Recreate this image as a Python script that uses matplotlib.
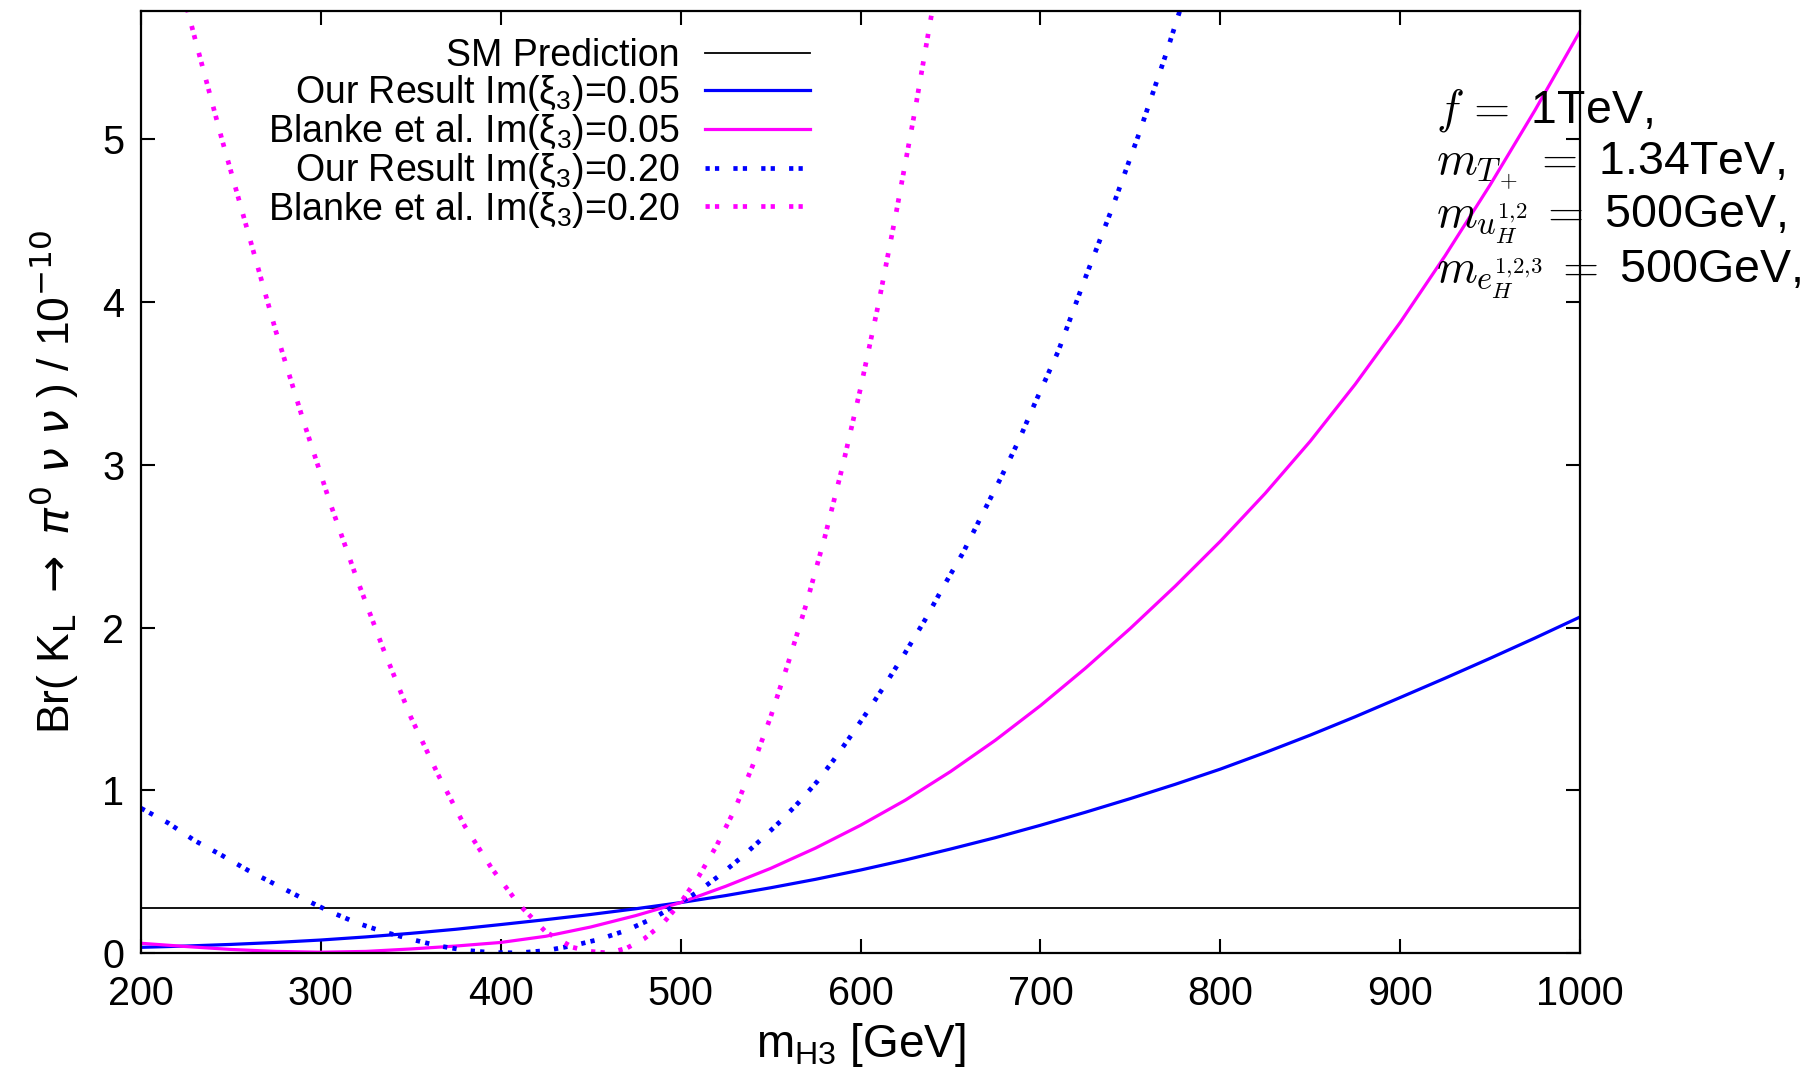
import numpy as np
import matplotlib
matplotlib.use("Agg")
from matplotlib import pyplot as plt

plt.rcParams['font.family'] = ['Liberation Sans', 'DejaVu Sans']
plt.rcParams['mathtext.fontset'] = 'custom'
plt.rcParams['mathtext.rm'] = 'Liberation Sans'
plt.rcParams['mathtext.it'] = 'Liberation Sans:italic'
plt.rcParams['mathtext.bf'] = 'Liberation Sans:bold'

# Br(K_L -> pi0 nu nu) in units of 1e-10 versus m_H3 [GeV]
sm_value = 0.275

ours_005_m = [200, 225, 250, 275, 300, 325, 350, 375, 400, 425, 450, 475, 500, 525, 550, 575,
              600, 625, 650, 675, 700, 725, 750, 775, 800, 825, 850, 875, 900, 925, 950, 975, 1000]
ours_005_br = [0.035, 0.043, 0.053, 0.065, 0.08, 0.099, 0.121, 0.146, 0.175, 0.205, 0.237, 0.272,
               0.31, 0.353, 0.401, 0.453, 0.51, 0.572, 0.639, 0.709, 0.785, 0.865, 0.949, 1.037,
               1.13, 1.232, 1.339, 1.452, 1.57, 1.689, 1.811, 1.936, 2.065]

blanke_005_m = [200, 225, 250, 275, 300, 325, 350, 375, 400, 425, 450, 475, 500, 525, 550, 575,
                600, 625, 650, 675, 700, 725, 750, 775, 800, 825, 850, 875, 900, 925, 950, 975, 1000]
blanke_005_br = [0.06, 0.04, 0.022, 0.01, 0.005, 0.01, 0.025, 0.043, 0.065, 0.103, 0.16, 0.23,
                 0.31, 0.41, 0.52, 0.645, 0.785, 0.94, 1.115, 1.308, 1.52, 1.75, 1.995, 2.255,
                 2.53, 2.825, 3.145, 3.495, 3.875, 4.285, 4.72, 5.18, 5.665]

ours_020_m = [200, 215, 230, 245, 260, 275, 290, 305, 320, 335, 350, 365, 380, 395, 410, 425,
              440, 455, 470, 485, 495, 500, 510, 522, 534, 545, 556, 566, 576, 585, 594, 603,
              612, 624, 636, 646, 657, 667, 678, 688, 697, 710, 725, 740, 755, 770, 785]
ours_020_br = [0.89, 0.80, 0.69, 0.60, 0.505, 0.42, 0.335, 0.255, 0.185, 0.13, 0.085, 0.045,
               0.017, 0.003, 0.001, 0.015, 0.045, 0.085, 0.14, 0.215, 0.28, 0.31, 0.38, 0.48,
               0.59, 0.70, 0.815, 0.93, 1.055, 1.185, 1.325, 1.47, 1.62, 1.83, 2.05, 2.25, 2.46,
               2.68, 2.92, 3.15, 3.38, 3.70, 4.15, 4.58, 5.04, 5.53, 6.05]

blanke_020_m = [215, 230, 245, 260, 275, 290, 305, 320, 335, 350, 365, 380, 395, 410, 425, 440,
                450, 460, 470, 480, 490, 500, 510, 520, 530, 540, 550, 560, 570, 580, 590, 600,
                610, 620, 630, 640, 650]
blanke_020_br = [6.25, 5.62, 5.00, 4.41, 3.82, 3.28, 2.77, 2.30, 1.86, 1.45, 1.10, 0.78, 0.52,
                 0.30, 0.13, 0.035, 0.01, 0.0, 0.03, 0.09, 0.18, 0.31, 0.47, 0.66, 0.88, 1.15,
                 1.45, 1.79, 2.15, 2.55, 2.99, 3.47, 3.99, 4.56, 5.16, 5.80, 6.50]

x_ticks = [200, 300, 400, 500, 600, 700, 800, 900, 1000]
y_ticks = [0, 1, 2, 3, 4, 5]

fig = plt.figure(figsize=(18.12, 10.77), dpi=100)
ax = fig.add_axes([0.0778, 0.1151, 0.7942, 0.8749])

dots = (0, (0.9, 1.1, 0.9, 3.0))
ax.axhline(sm_value, color='black', lw=1.3, label='SM Prediction')
ax.plot(ours_005_m, ours_005_br, color='#0000ff', lw=2.3,
        label=r'Our Result Im($\mathrm{\xi}_3$)=0.05')
ax.plot(blanke_005_m, blanke_005_br, color='#ff00ff', lw=2.3,
        label=r'Blanke et al. Im($\mathrm{\xi}_3$)=0.05')
ax.plot(ours_020_m, ours_020_br, color='#0000ff', lw=3.4, ls=dots, dash_capstyle='butt',
        label=r'Our Result Im($\mathrm{\xi}_3$)=0.20')
ax.plot(blanke_020_m, blanke_020_br, color='#ff00ff', lw=3.4, ls=dots, dash_capstyle='butt',
        label=r'Blanke et al. Im($\mathrm{\xi}_3$)=0.20')

ax.set_xlim(200, 1000)
ax.set_ylim(0, 5.79)
ax.set_xticks(x_ticks)
ax.set_yticks(y_ticks)
ax.tick_params(direction='in', length=10, width=1.5, top=True, right=True, labelsize=28.5)
ax.tick_params(axis='x', pad=16)
ax.tick_params(axis='y', pad=12)
for sp in ax.spines.values():
    sp.set_linewidth(1.6)

ax.set_xlabel(r'm$_{\mathrm{H3}}$ [GeV]', fontsize=33)
ax.xaxis.set_label_coords(0.5, -0.072)
ax.set_ylabel(r'Br( K$_{\mathrm{L}}$ $\rightarrow$ $\pi^{\mathrm{0}}$ $\nu$ $\nu$ ) / 10$^{\mathrm{-10}}$',
              fontsize=32, math_fontfamily='dejavusans')
ax.yaxis.set_label_coords(-0.042, 0.5)

leg = ax.legend(loc='upper right', bbox_to_anchor=(0.465, 0.971), markerfirst=False,
                frameon=False, fontsize=27, handlelength=2.8, handletextpad=0.68,
                labelspacing=-0.03, borderpad=0, borderaxespad=0)

# parameter block on the right, math parts in Computer Modern
params = [r'$f\,=$ 1TeV,',
          r'$m_{T_+}\,=$ 1.34TeV,',
          r'$m_{u_H^{1,\!2}}\,=$ 500GeV,',
          r'$m_{e_H^{1,\!2,\!3}}\,=$ 500GeV,']
baselines = [123, 175, 227, 282]
for txt, yb in zip(params, baselines):
    fig.text(1436 / 1812, 1 - yb / 1077, txt, fontsize=33.5, ha='left', va='baseline',
             math_fontfamily='cm')

plt.savefig('out.png', dpi=100)
